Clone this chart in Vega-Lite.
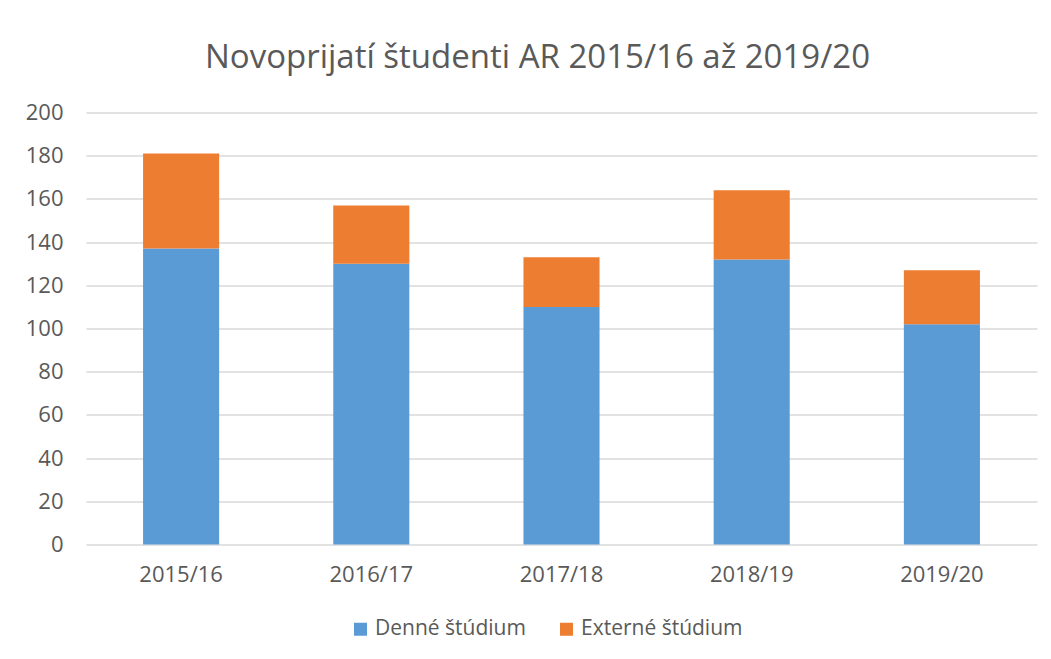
{
  "$schema": "https://vega.github.io/schema/vega-lite/v6.json",
  "width": 951,
  "height": 432,
  "autosize": {"type": "none"},
  "padding": {"left": 86, "top": 112.5, "right": 14, "bottom": 114.5},
  "background": "white",
  "title": {
    "text": "Novoprijatí študenti AR 2015/16 až 2019/20",
    "font": "Open Sans",
    "fontSize": 33,
    "fontWeight": "normal",
    "color": "#595959",
    "anchor": "middle",
    "baseline": "alphabetic",
    "offset": 1,
    "dx": -24
  },
  "data": {
    "values": [
      {"rok": "2015/16", "typ": "Denné štúdium", "pocet": 137},
      {"rok": "2015/16", "typ": "Externé štúdium", "pocet": 44},
      {"rok": "2016/17", "typ": "Denné štúdium", "pocet": 130},
      {"rok": "2016/17", "typ": "Externé štúdium", "pocet": 27},
      {"rok": "2017/18", "typ": "Denné štúdium", "pocet": 110},
      {"rok": "2017/18", "typ": "Externé štúdium", "pocet": 23},
      {"rok": "2018/19", "typ": "Denné štúdium", "pocet": 132},
      {"rok": "2018/19", "typ": "Externé štúdium", "pocet": 32},
      {"rok": "2019/20", "typ": "Denné štúdium", "pocet": 102},
      {"rok": "2019/20", "typ": "Externé štúdium", "pocet": 25}
    ]
  },
  "mark": {"type": "bar"},
  "encoding": {
    "x": {
      "field": "rok",
      "type": "nominal",
      "scale": {"paddingInner": 0.6, "paddingOuter": 0.3},
      "axis": {
        "title": null,
        "labelAngle": 0,
        "ticks": false,
        "domain": false,
        "labelPadding": 20,
        "labelFont": "Open Sans",
        "labelFontSize": 22,
        "labelColor": "#595959"
      }
    },
    "y": {
      "field": "pocet",
      "type": "quantitative",
      "stack": "zero",
      "scale": {"domain": [0, 200], "nice": false},
      "axis": {
        "title": null,
        "values": [0, 20, 40, 60, 80, 100, 120, 140, 160, 180, 200],
        "ticks": false,
        "domain": false,
        "labelPadding": 23,
        "labelFont": "Open Sans",
        "labelFontSize": 22,
        "labelColor": "#595959",
        "gridColor": "#D9D9D9",
        "gridWidth": 1.5
      }
    },
    "color": {
      "field": "typ",
      "type": "nominal",
      "scale": {"domain": ["Denné štúdium", "Externé štúdium"], "range": ["#5B9BD5", "#ED7D31"]},
      "legend": {
        "title": null,
        "orient": "none",
        "legendX": 264,
        "legendY": 506,
        "direction": "horizontal",
        "symbolType": "square",
        "symbolSize": 169,
        "symbolStrokeWidth": 0,
        "labelFont": "Open Sans",
        "labelFontSize": 21,
        "labelColor": "#595959",
        "labelLimit": 400,
        "columnPadding": 30,
        "labelOffset": 4
      }
    },
    "order": {"field": "typ", "sort": "ascending"}
  },
  "config": {"view": {"stroke": null}}
}
